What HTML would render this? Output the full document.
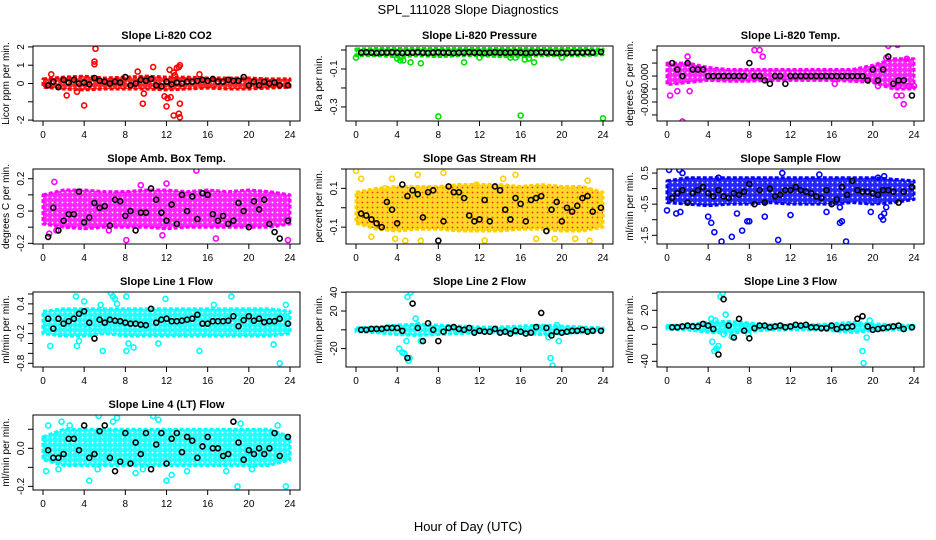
<!DOCTYPE html>
<html><head><meta charset="utf-8"><style>
body{margin:0;background:#fff;}
svg{display:block;font-family:"Liberation Sans",sans-serif;}
</style></head><body>
<svg id="chart" width="936" height="540" viewBox="0 0 936 540">
<defs id="defs"></defs>
<text x="468" y="14" text-anchor="middle" font-size="13">SPL_111028  Slope Diagnostics</text>
<text x="468" y="531" text-anchor="middle" font-size="13">Hour of Day (UTC)</text>
</svg>
<script>
const blackHours = [0.5,1,1.5,2,2.5,3,3.5,4,4.5,5,5.5,6,6.5,7,7.5,8,8.5,9,9.5,10,10.5,11,11.5,12,12.5,13,13.5,14,14.5,15,15.5,16,16.5,17,17.5,18,18.5,19,19.5,20,20.5,21,21.5,22,22.5,23,23.8];
const bandHours = [0,2,4,6,8,10,12,14,16,18,20,22,24];

const titles = ["Slope Li-820 CO2","Slope Li-820 Pressure","Slope Li-820 Temp.","Slope Amb. Box Temp.","Slope Gas Stream RH","Slope Sample Flow","Slope Line 1 Flow","Slope Line 2 Flow","Slope Line 3 Flow","Slope Line 4 (LT) Flow"];
const yTitles = ["Licor ppm per min.","kPa per min.","degrees C per min.","degrees C per min.","percent per min.","ml/min per min.","ml/min per min.","ml/min per min.","ml/min per min.","ml/min per min."];
const yRanges = [[-2.05,2.05],[-0.374,0.021],[-0.0104,0.00695],[-0.204,0.26],[-0.187,0.2],[-1.78,0.63],[-0.875,0.64],[-39.6,40.3],[-46.7,41.5],[-0.219,0.175]];
const yTicks = [[-2,-1,0,1,2],[-0.3,-0.2,-0.1,0],[-0.009,-0.006,-0.003,0,0.003,0.006],[-0.2,-0.1,0,0.1,0.2],[-0.1,0,0.1,0.2],[-1.5,-1,-0.5,0,0.5],[-0.8,-0.6,-0.4,-0.2,0,0.2,0.4,0.6],[-20,0,20,40],[-40,-20,0,20,40],[-0.2,-0.1,0,0.1]];
const yTickLabels = [["-2","","0","1","2"],["-0.3","","-0.1",""],["","-0.006","","0.000","",""],["-0.2","","0.0","","0.2"],["-0.1","","0.1",""],["-1.5","","-0.5","","0.5"],["-0.8","","","-0.2","","","0.4",""],["-20","","20","40"],["-40","","0","20",""],["-0.2","","0.0",""]];
const xTicks = [0,4,8,12,16,20,24];
const colors = ["#ff0000","#00e000","#ff00ff","#ff00ff","#ffd000","#0000ff","#00ffff","#00ffff","#00ffff","#00ffff"];

const bandLo = [
[-0.2,-0.3,-0.35,-0.3,-0.3,-0.3,-0.35,-0.3,-0.25,-0.3,-0.3,-0.25,-0.2],
[-0.03,-0.03,-0.035,-0.03,-0.035,-0.03,-0.03,-0.035,-0.035,-0.03,-0.03,-0.03,-0.025],
[-0.002,-0.0015,-0.001,-0.0012,-0.0012,-0.001,-0.001,-0.001,-0.001,-0.0012,-0.0015,-0.003,-0.003],
[-0.08,-0.1,-0.11,-0.1,-0.1,-0.1,-0.11,-0.1,-0.1,-0.1,-0.1,-0.1,-0.08],
[-0.08,-0.11,-0.12,-0.11,-0.11,-0.12,-0.12,-0.12,-0.11,-0.11,-0.12,-0.12,-0.1],
[-0.45,-0.5,-0.55,-0.5,-0.5,-0.45,-0.5,-0.5,-0.5,-0.45,-0.5,-0.45,-0.35],
[-0.2,-0.25,-0.25,-0.2,-0.25,-0.25,-0.25,-0.25,-0.25,-0.25,-0.25,-0.25,-0.2],
[-2,-3,-5,-6,-5,-4,-3,-3,-4,-5,-4,-3,-2],
[-2,-3,-6,-7,-5,-3,-3,-3,-4,-6,-4,-3,-2],
[-0.06,-0.09,-0.09,-0.09,-0.09,-0.09,-0.09,-0.09,-0.09,-0.09,-0.09,-0.09,-0.06]];
const bandHi = [
[0.25,0.35,0.4,0.3,0.35,0.4,0.35,0.35,0.3,0.3,0.3,0.25,0.25],
[0.005,0.008,0.008,0.008,0.008,0.008,0.008,0.008,0.008,0.008,0.008,0.008,0.005],
[0.003,0.003,0.002,0.0015,0.0015,0.0015,0.0015,0.0015,0.0015,0.0015,0.0025,0.004,0.004],
[0.1,0.13,0.13,0.12,0.12,0.13,0.13,0.12,0.13,0.12,0.13,0.12,0.1],
[0.08,0.1,0.11,0.11,0.11,0.12,0.12,0.12,0.11,0.12,0.11,0.11,0.08],
[0.25,0.35,0.35,0.35,0.35,0.35,0.35,0.35,0.35,0.35,0.35,0.3,0.25],
[0.25,0.3,0.3,0.3,0.3,0.3,0.3,0.3,0.3,0.3,0.3,0.3,0.25],
[2,3,5,6,5,4,3,3,4,5,4,3,2],
[2,3,6,7,5,3,3,3,4,6,4,3,2],
[0.06,0.1,0.1,0.1,0.1,0.1,0.1,0.1,0.1,0.1,0.1,0.1,0.06]];

const outX = [
[5.1,5.0,5.0,4.0,9.7,9.8,10.7,9.2,12.3,12.7,13,13.3,13.2,11.8,12,12.1,12.4,12.7,13.2,13.3,13.3,12.8,15.2,2.3,0.8,3.3],
[0,4,4.3,4.6,5.3,6.3,8,10.5,12,15,15.5,16,17.3,16.8,20,24,16.4],
[0.3,1,1.5,2.2,2,8.5,9,9.3,16.3,20.5,21.3,21.5,22.4,22.3,22.8,23,23.5,24,23.3,22.5],
[1.1,14.9,8.1,16.8,11.6,23.8,6.4,1.3,0.6,12,9.5],
[0,0.5,1.5,3.5,3.8,4.8,6,6.3,8.5,12.5,14.3,15.5,19.5,17.5,19.3,21.3,22.7,22.5,11.7,2.8],
[0.2,1.2,1.5,0,0.9,1.3,4,4.3,4.6,5.3,6.3,7.3,5,7.8,8,6.8,9.5,10.8,11.2,12,14.8,15.5,16.8,17,17.4,16.8,19.8,20.8,21,21.1,20.5,21.1,21.3],
[3.2,4,0.7,3.3,3.5,5.8,6.6,6.8,7,7.2,8.1,8.1,8.3,8.8,11.9,11.2,18.3,15.2,22.4,23,23.6,16.6,5.6],
[5,5.3,4.2,4.5,4.7,5.1,5.2,5.8,6.3,4.9,6,18.7,18.9,19.1,19.7,19.5,18.2],
[5.2,5.4,5.7,4.4,4.6,4.8,5,4.3,4.7,6.3,7.6,7.9,19,19.1,19.4,19.7,5.5],
[0.3,0.5,1.8,2.6,5.4,7.2,6.8,10.7,11.2,4.5,5.3,12,12.5,9,14,17.8,18.9,19.2,20.3,22.8,23.6,1.5,9.7]];
const outY = [
[1.9,1.2,1.05,-1.2,-1.1,-0.55,0.9,0.65,0.75,0.6,0.85,1.0,0.9,-0.7,-1.25,-0.8,-0.75,-1.75,-1.65,-1.85,-1.1,0.45,0.5,-0.65,0.5,-0.45],
[-0.04,-0.045,-0.055,-0.055,-0.065,-0.07,-0.35,-0.065,-0.04,-0.04,-0.04,-0.345,-0.065,-0.045,-0.04,-0.36,-0.05],
[-0.0045,-0.0035,-0.0105,-0.0035,0.0045,0.006,0.006,0.0045,-0.0018,-0.0023,0.0042,0.007,0.0072,-0.0045,-0.0045,-0.0065,-0.0023,-0.0023,0.004,-0.0023],
[0.18,0.25,-0.18,-0.17,-0.15,-0.18,-0.12,-0.12,-0.14,0.17,0.16],
[0.19,0.15,-0.15,0.15,-0.16,-0.17,0.17,-0.17,0.18,-0.17,0.15,0.17,0.23,-0.16,-0.16,-0.16,-0.17,0.14,0.12,0.1],
[0.6,0.6,0.5,-0.7,-0.8,-0.75,-0.9,-1.1,-1.4,-1.7,-1.55,-1.35,0.35,-1.05,-1.05,-0.8,-0.9,-1.65,0.5,-0.85,0.45,-0.75,-1.1,-1.05,-1.7,-0.6,-0.75,-0.9,-1.0,-0.8,0.35,0.4,-0.6],
[0.55,0.45,-0.45,-0.45,-0.35,-0.55,0.62,0.55,0.5,0.4,0.55,-0.55,-0.4,-0.48,0.5,-0.4,0.55,-0.55,-0.42,-0.8,0.38,0.38,0.38],
[35,40,-20,-24,-25,-33,-30,12,-12,-12,5,-8,-30,-38,-12,5,3],
[36,40,15,-17,-28,-25,-22,10,8,-11,2,-8,-28,-42,-12,8,-8],
[-0.12,0.12,0.14,0.12,0.17,0.16,0.14,0.17,0.15,-0.17,-0.11,-0.17,-0.14,-0.13,-0.12,-0.12,-0.2,0.13,-0.11,0.12,-0.2,-0.11,-0.11]];

const blackVals = [
[-0.1,0.1,-0.2,0.2,0.05,0.2,0,0.05,-0.05,0.3,0.15,0.1,0,0.1,0.05,0.35,-0.1,0,0.2,0.15,0.25,-0.1,-0.15,0.1,-0.05,0.05,0,0.1,0.1,0.15,0.2,0.15,0.25,0.1,0.1,0.2,0.15,0.15,0.35,-0.1,0.1,-0.1,0.1,0,0.05,-0.1,-0.1],
[-0.014,-0.012,-0.014,-0.016,-0.014,-0.014,-0.012,-0.014,-0.016,-0.014,-0.014,-0.012,-0.014,-0.016,-0.014,-0.012,-0.014,-0.014,-0.016,-0.014,-0.014,-0.012,-0.014,-0.014,-0.016,-0.014,-0.012,-0.014,-0.014,-0.014,-0.012,-0.014,-0.016,-0.014,-0.014,-0.012,-0.014,-0.014,-0.016,-0.014,-0.016,-0.014,-0.014,-0.014,-0.012,-0.014,-0.01],
[0.003,0.0015,0,0.003,0.0015,0.0015,0.0015,0,0,0,0,0,0,0,0,0.003,0,0,-0.001,-0.0018,0,0,-0.0018,0,0,0,0,0,0,0,0,0,0,0,0,0,0,0,-0.001,0.0015,-0.001,0.0015,0.0045,-0.0018,-0.001,-0.001,-0.0045],
[-0.16,0.02,-0.12,-0.06,-0.02,-0.02,0.12,-0.07,-0.04,0.05,0.02,0.03,-0.09,0.07,0.06,-0.03,0.0,-0.12,-0.01,-0.01,0.14,0.07,-0.01,-0.06,0.04,-0.08,0.1,0.0,0.09,-0.05,0.11,0.1,-0.02,-0.06,-0.03,-0.08,-0.06,0.05,0.0,-0.1,0.06,0.01,0.07,-0.08,-0.13,-0.17,-0.06],
[-0.03,-0.04,-0.06,-0.08,-0.1,0.03,-0.01,-0.08,0.12,0.06,0.09,0.07,-0.05,0.08,0.09,-0.17,-0.07,0.11,0.08,0.08,0.05,-0.04,-0.07,-0.06,0.04,-0.07,0.11,0.09,-0.01,-0.06,0.05,0.02,-0.07,0.04,0.05,0.06,-0.12,-0.01,0.03,-0.07,0.0,-0.02,0.01,0.05,0.06,-0.02,0.0],
[-0.3,-0.15,-0.05,-0.45,-0.15,-0.05,0.05,-0.15,-0.25,-0.05,-0.25,-0.3,-0.15,-0.2,-0.1,0.15,-0.5,-0.05,-0.45,0,-0.25,-0.2,-0.05,-0.05,0.05,-0.05,-0.1,-0.15,-0.25,-0.3,-0.05,-0.5,-0.35,0.05,-0.2,0.25,-0.05,-0.1,-0.1,-0.15,-0.2,-0.05,-0.05,-0.1,-0.45,-0.1,0.05],
[0.1,-0.1,0.1,0,0.05,0.1,0.2,0.25,0.02,-0.3,0.08,0.02,0.08,0.06,0.05,0.02,0,0,-0.02,-0.03,0.3,0.02,0.08,0.1,0.05,0.05,0.06,0.08,0.1,0.18,0,0,0.05,0.05,0.05,0.06,0.15,-0.05,0.07,0.15,0.06,0.1,0.03,0.05,0.05,0.1,0.0],
[0,0,1,1,1,2,2,2,-1,-30,28,2,-12,7,0,-12,-2,2,3,1,0,2,-3,-1,-2,-2,1,-3,-2,-4,-1,-2,-4,-3,3,18,2,-6,-2,-3,-2,-1,-1,0,-2,-1,-1],
[0,0,1,2,1,1,4,2,-2,-32,33,2,-12,10,-4,-13,-1,2,2,0,1,2,0,1,3,2,3,0,0,-1,-1,2,-2,0,0,1,10,13,1,-3,-2,-1,0,1,2,-2,0],
[-0.01,-0.05,-0.05,-0.03,0.05,0.05,-0.01,0.12,-0.05,-0.03,0.09,0.12,-0.05,-0.12,-0.07,0.08,-0.08,0.03,-0.03,0.08,-0.11,0.02,0.08,-0.08,0.05,0.08,-0.02,0.06,0.04,-0.05,0.01,0.06,0,0,-0.04,-0.03,0.14,0.03,-0.06,-0.01,-0.03,0,-0.03,0,0.08,-0.04,0.06]];

const NS = "http://www.w3.org/2000/svg";
const svg = document.getElementById('chart');
const defs = document.getElementById('defs');
const colLeft = [33, 346, 657];
const rowTop = [46, 169, 292, 415];
const boxW = 267, boxH = 75;
function mk(tag, attrs, parent){ const e=document.createElementNS(NS,tag); for(const k in attrs) e.setAttribute(k,attrs[k]); parent.appendChild(e); return e; }

for (let p = 0; p < 10; p++) {
  // texture pattern for dense point cloud
  const pat = mk('pattern', {id: 'pat' + p, width: 5, height: 5, patternUnits: 'userSpaceOnUse'}, defs);
  mk('rect', {width: 5, height: 5, fill: colors[p], opacity: 0.85}, pat);
  mk('circle', {cx: 2.5, cy: 2.5, r: 0.9, fill: p === 4 ? '#ff3000' : '#fff'}, pat);

  const L = colLeft[p % 3], T = rowTop[Math.floor(p / 3)];
  const xs = h => L + 10 + h * 247 / 24;
  const [y0, y1] = yRanges[p];
  const ys = v => T + boxH - (v - y0) / (y1 - y0) * boxH;
  const g = mk('g', {}, svg);
  
  
  const clipId = 'clip' + p;
  const cp = mk('clipPath', {id: clipId}, g);
  mk('rect', {x: L, y: T, width: boxW, height: boxH}, cp);
  const t = mk('text', {x: L + boxW / 2, y: T - 7, 'text-anchor': 'middle', 'font-size': 11, 'font-weight': 'bold'}, g);
  t.textContent = titles[p];
  
  
  const yt = mk('text', {transform: `translate(${L - 24},${T + boxH / 2}) rotate(-90)`, 'text-anchor': 'middle', 'font-size': 10}, g);
  yt.textContent = yTitles[p];
  
  
  const data = mk('g', {'clip-path': `url(#${clipId})`}, g);
  let pts = bandHours.map((h, i) => xs(h) + ',' + ys(bandHi[p][i]));
  pts = pts.concat(bandHours.map((h, i) => xs(h) + ',' + ys(bandLo[p][i])).reverse());
  const band = mk('polygon', {points: pts.join(' '), fill: `url(#pat${p})`, stroke: colors[p], 'stroke-width': 3, 'stroke-linejoin': 'round', 'stroke-dasharray': '4 2'}, data);
  
  
  outX[p].forEach((h, i) => {
    const c = mk('circle', {cx: xs(h), cy: ys(outY[p][i]), r: 2.5, fill: 'none', stroke: colors[p], 'stroke-width': 1.6}, data);
    
    
  });
  blackHours.forEach((h, i) => {
    const c = mk('circle', {cx: xs(h), cy: ys(blackVals[p][i]), r: 2.5, fill: 'none', stroke: '#000', 'stroke-width': 1.6}, data);
    
    
  });
  const box = mk('rect', {x: L, y: T, width: boxW, height: boxH, fill: 'none', stroke: '#000', 'stroke-width': 1}, g);
  
  
  xTicks.forEach(h => {
    mk('line', {x1: xs(h), x2: xs(h), y1: T + boxH, y2: T + boxH + 5, stroke: '#000'}, g);
    const tl = mk('text', {x: xs(h), y: T + boxH + 17, 'text-anchor': 'middle', 'font-size': 10}, g);
    tl.textContent = h;
    
    
  });
  yTicks[p].forEach((v, i) => {
    mk('line', {x1: L - 5, x2: L, y1: ys(v), y2: ys(v), stroke: '#000'}, g);
    if (yTickLabels[p][i]) {
      const tl = mk('text', {transform: `translate(${L - 9},${ys(v)}) rotate(-90)`, 'text-anchor': 'middle', 'font-size': 10}, g);
      tl.textContent = yTickLabels[p][i];
      
      
    }
  });
}
</script>
</body></html>
